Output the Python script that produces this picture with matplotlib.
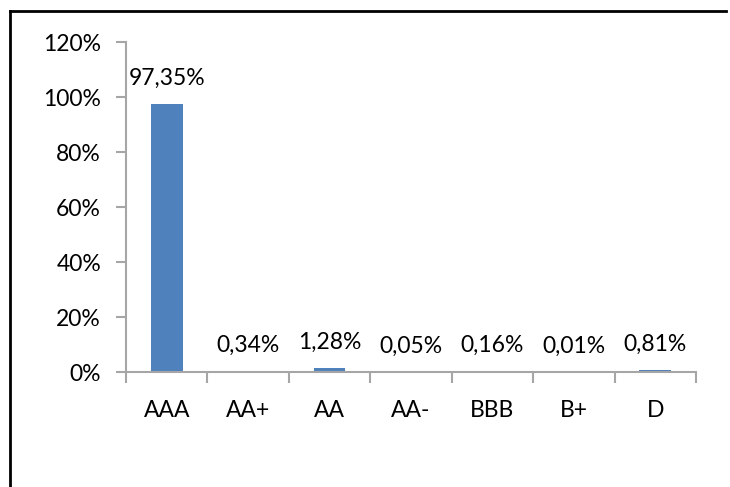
import matplotlib.pyplot as plt
from matplotlib.lines import Line2D

ratings = ['AAA', 'AA+', 'AA', 'AA-', 'BBB', 'B+', 'D']
shares = [97.35, 0.34, 1.28, 0.05, 0.16, 0.01, 0.81]
yticks = [0, 20, 40, 60, 80, 100, 120]

plt.rcParams['font.family'] = ['Lato', 'DejaVu Sans']
axisColor = '#A6A6A6'

fig = plt.figure(figsize=(7.3, 4.87), dpi=100)
ax = fig.add_axes([0.1726, 0.2361, 0.7808, 0.6776])

x = list(range(len(ratings)))
ax.bar(x, shares, width=0.39, color='#4F81BD', zorder=2)

for xi, v in zip(x, shares):
    label = ('%.2f%%' % v).replace('.', ',')
    ax.annotate(label, (xi, v), xytext=(0, 11), textcoords='offset points',
                ha='center', va='bottom', fontsize=16.5)

ax.set_xlim(-0.5, len(ratings) - 0.5)
ax.set_ylim(0, 120)
ax.set_yticks(yticks)
ax.set_yticklabels(['%d%%' % t for t in yticks], fontsize=16.5)
ax.set_xticks(x)
ax.set_xticklabels(ratings, fontsize=16.5)
ax.tick_params(axis='x', length=0, pad=20)
ax.tick_params(axis='y', length=7, color=axisColor, width=1.5, pad=11)

# category boundary ticks
ax.set_xticks([i - 0.5 for i in range(len(ratings) + 1)], minor=True)
ax.tick_params(axis='x', which='minor', length=8, color=axisColor, width=1.5, direction='out')

for side in ['top', 'right']:
    ax.spines[side].set_visible(False)
for side in ['left', 'bottom']:
    ax.spines[side].set_color(axisColor)
    ax.spines[side].set_linewidth(1.5)

# chart border (only top and left visible in the picture)
fig.add_artist(Line2D([10 / 730, 726 / 730], [1 - 11 / 487, 1 - 11 / 487], color='black', lw=2))
fig.add_artist(Line2D([10 / 730, 10 / 730], [1 - 11 / 487, 0], color='black', lw=2))

plt.savefig('out.png', dpi=100)
